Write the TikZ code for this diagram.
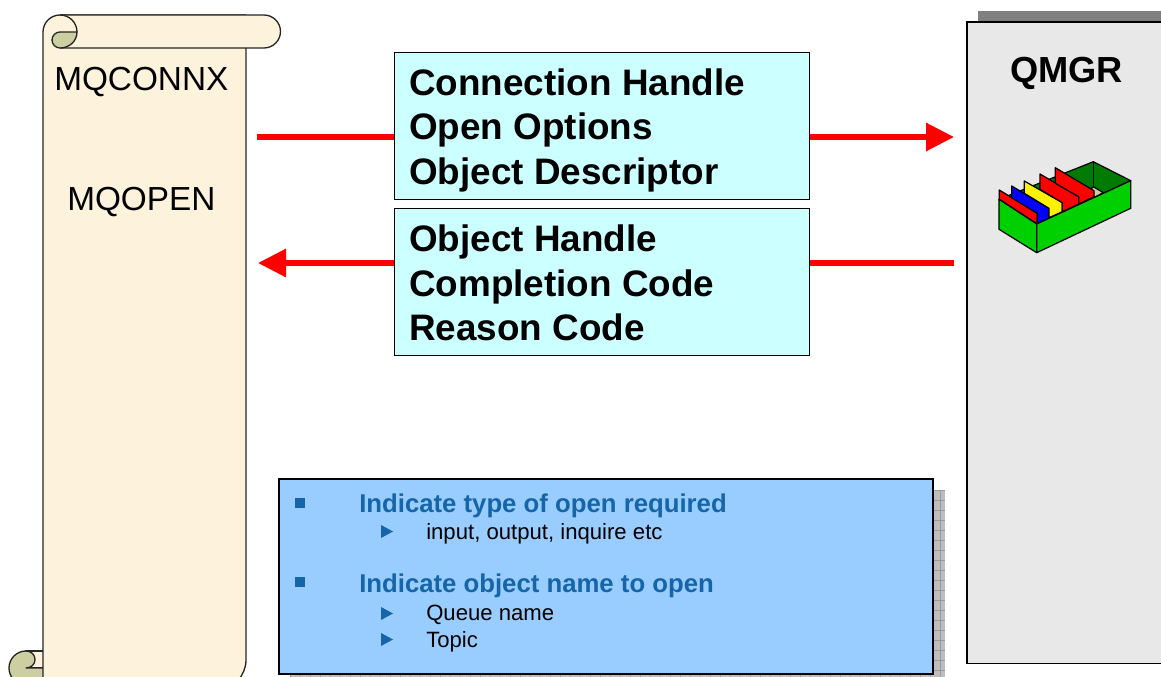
\documentclass[tikz,border=0pt]{standalone}
\usepackage{fontspec}
\setmainfont{Liberation Sans}
\usetikzlibrary{arrows.meta}
\definecolor{cream}{HTML}{FDF2DC}
\definecolor{khaki}{HTML}{CDCFA2}
\definecolor{cyanbox}{HTML}{CCFFFF}
\definecolor{bluebox}{HTML}{99CCFF}
\definecolor{bluetext}{HTML}{1565A8}
\definecolor{qgray}{HTML}{E8E8E8}
\definecolor{stripgray}{HTML}{808080}
\definecolor{shadowgray}{HTML}{BEBEBE}
\definecolor{gridgray}{HTML}{9A9A9A}
\definecolor{boxgreen}{HTML}{00D000}
\definecolor{darkgreen}{HTML}{007A00}
\tikzset{
  x=0.75pt,y=-0.75pt,
  outline/.style={draw=black!85,line width=1pt,line join=round},
  infobox/.style={draw=black,line width=0.75pt},
  bigtext/.style={anchor=base west,inner sep=0pt,font=\fontsize{27.65}{32}\selectfont\bfseries},
  qmgrtextstyle/.style={anchor=base west,inner sep=0pt,font=\fontsize{27.2}{32}\selectfont\bfseries},
  scrolltext/.style={anchor=base west,inner sep=0pt,font=\fontsize{25}{30}\selectfont},
  headtext/.style={anchor=base west,inner sep=0pt,text=bluetext,font=\fontsize{19.3}{23}\selectfont\bfseries},
  subtext/.style={anchor=base west,inner sep=0pt,font=\fontsize{16.6}{20}\selectfont},
  redarrow/.style={draw=red,line width=3.9pt},
  redtip/.style={-{Triangle[length=21pt,width=20.5pt]}},
  mark1/.style={fill=bluetext,draw=none},
  bw/.style={draw=black,line width=0.9pt,line join=round},
}
\begin{document}
\begin{tikzpicture}
\useasboundingbox (0,0) rectangle (1161,677);
\clip (0,0) rectangle (1161,677);

% QMGR
\fill[stripgray] (978,11) rectangle (1170,23);
\node[draw=black,line width=1.1pt,fill=qgray,inner sep=0pt,anchor=north west,
      minimum width=150pt,minimum height=481pt] (qmgr) at (966.2,21.2) {};
\node[qmgrtextstyle] (qmgrtext) at (1010,83) {QMGR};

% green tray
\filldraw[bw,fill=darkgreen] (999,199.3) -- (1093.3,161.7) -- (1130.7,180.7) -- (1036.7,224) -- cycle;
\draw[bw] (1093.3,161.7) -- (1093.3,186.7);
\filldraw[bw,fill=khaki] (1093.3,186.7) -- (1103.3,192.7) -- (1095,197) -- (1088,192) -- cycle;
\filldraw[bw,fill=red] (999.3,190) -- (1037.3,213.3) -- (1037.3,224) -- (999.3,199.3) -- cycle;
\filldraw[bw,fill=blue] (1011.7,186) -- (1049,208.3) -- (1049,218.3) -- (1037.3,223.3) -- (1037.3,213.3) -- (1011.7,197.7) -- cycle;
\filldraw[bw,fill=yellow] (1024.3,181) -- (1062.3,202.7) -- (1062.3,211.7) -- (1049,217.7) -- (1049,208.3) -- (1024.3,193.3) -- cycle;
\filldraw[bw,fill=red] (1040,174) -- (1078.7,196.7) -- (1078.7,204) -- (1062.3,211.7) -- (1062.3,202.7) -- (1040,189.3) -- cycle;
\filldraw[bw,fill=red] (1055.3,167.7) -- (1094,190.7) -- (1094,196.7) -- (1078.7,204) -- (1078.7,196.7) -- (1055.3,183.3) -- cycle;
\filldraw[bw,fill=boxgreen] (999,199.3) -- (1036.7,224) -- (1036.7,252.7) -- (999,229.3) -- cycle;
\filldraw[bw,fill=boxgreen] (1036.7,224) -- (1130.7,180.7) -- (1130.7,208.3) -- (1036.7,252.7) -- cycle;

% scroll: bottom curl
\filldraw[outline,fill=cream] (26,651) -- (50,651) -- (50,668) -- (26,668) -- cycle;
\filldraw[outline,fill=khaki] (26,651) .. controls (16.6,651) and (9,658.6) .. (9,668)
  .. controls (9,677.4) and (16.6,685) .. (26,685) -- (50,685) -- (50,668) -- (26,668)
  .. controls (31,668) and (35,664.5) .. (35,659.5) .. controls (35,654.5) and (31,651) .. (26,651) -- cycle;
% scroll: body
\filldraw[outline,fill=cream] (43,690) -- (43,32) .. controls (43,22.6) and (50.6,15) .. (60,15)
  -- (246,15) -- (246,660) .. controls (246,668) and (243,674) .. (238,681) -- (238,690) -- cycle;
% scroll: top band
\filldraw[outline,fill=cream] (60,15) -- (264,15) .. controls (273,15) and (280.5,22.4) .. (280.5,31.5)
  .. controls (280.5,40.6) and (273,48) .. (264,48) -- (60,48);
\filldraw[outline,fill=khaki] (60,32) -- (77,32) .. controls (77,41) and (69.5,48) .. (60,48)
  .. controls (55.6,48) and (52,44.4) .. (52,40) .. controls (52,35.6) and (55.6,32) .. (60,32) -- cycle;
\draw[outline] (60,15) .. controls (69.5,15) and (77,22.6) .. (77,32);
\node[scrolltext] (mqconnx) at (54,91) {MQCONNX};
\node[scrolltext] (mqopen) at (67,211) {MQOPEN};
\coordinate (scrollupper) at (257,137);
\coordinate (scrolllower) at (258,263);
\coordinate (qmgrupper) at (954,137);
\coordinate (qmgrlower) at (954,263);

% cyan boxes
\node[infobox,fill=cyanbox,anchor=north west,inner sep=0pt,minimum width=311.4pt,minimum height=110.25pt] (request) at (393.6,51.6) {};
\node[infobox,fill=cyanbox,anchor=north west,inner sep=0pt,minimum width=311.4pt,minimum height=110.25pt] (reply) at (393.6,207.6) {};
\node[bigtext] (r1) at (409,95.5) {Connection Handle};
\node[bigtext] (r2) at (409,140) {Open Options};
\node[bigtext] (r3) at (409,184.5) {Object Descriptor};
\node[bigtext] (s1) at (409,252) {Object Handle};
\node[bigtext] (s2) at (409,297) {Completion Code};
\node[bigtext] (s3) at (409,341) {Reason Code};

% arrows
\draw[redarrow] (scrollupper) -- (scrollupper -| request.west);
\draw[redarrow,redtip] (qmgrupper -| request.east) -- (qmgrupper);
\draw[redarrow] (qmgrlower) -- (qmgrlower -| reply.east);
\draw[redarrow,redtip] (scrolllower -| reply.west) -- (scrolllower);

% blue box with shadow
\fill[shadowgray] (290,490) rectangle (945,677);
\foreach \yy in {490,500,...,670} \draw[gridgray,line width=0.3pt] (934,\yy) -- (945,\yy);
\draw[gridgray,line width=0.3pt] (940,490) -- (940,677);
\foreach \xx in {290,300,...,930} \draw[gridgray,line width=0.3pt] (\xx,674) -- (\xx,677);
\node[draw=black,line width=1.3pt,fill=bluebox,anchor=north west,inner sep=0pt,minimum width=490.9pt,minimum height=146pt] (notes) at (277.8,478.3) {};
\fill[mark1] (295,498) rectangle (305,508);
\fill[mark1] (295,577) rectangle (305,587);
\fill[mark1] (381,525) -- (393,531.5) -- (381,538) -- cycle;
\fill[mark1] (381,607) -- (393,613.5) -- (381,620) -- cycle;
\fill[mark1] (381,633) -- (393,639.5) -- (381,646) -- cycle;
\node[headtext] (h1) at (359,512) {Indicate type of open required};
\node[subtext] (t1) at (426,539) {input, output, inquire etc};
\node[headtext] (h2) at (359,592) {Indicate object name to open};
\node[subtext] (t2) at (426,620) {Queue name};
\node[subtext] (t3) at (426,647) {Topic};
\end{tikzpicture}
\end{document}
